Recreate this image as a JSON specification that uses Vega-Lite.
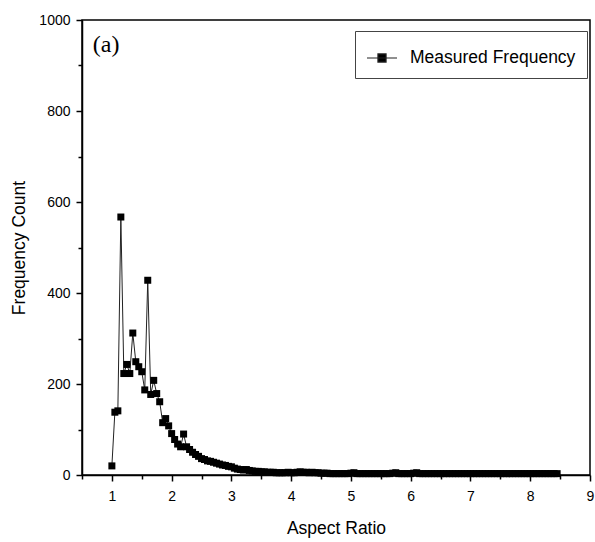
{
  "$schema": "https://vega.github.io/schema/vega-lite/v6.json",
  "width": 508,
  "height": 455,
  "autosize": {"type": "none"},
  "padding": {"left": 82, "top": 20, "right": 5, "bottom": 67},
  "background": "white",
  "config": {
    "view": {"stroke": "black", "strokeWidth": 1.5},
    "font": "Liberation Sans"
  },
  "data": {
    "values": [
      {"ratio": 1.00, "count": 20}, {"ratio": 1.05, "count": 138}, {"ratio": 1.10, "count": 141}, {"ratio": 1.15, "count": 567},
      {"ratio": 1.20, "count": 223}, {"ratio": 1.25, "count": 243}, {"ratio": 1.30, "count": 223}, {"ratio": 1.35, "count": 312},
      {"ratio": 1.40, "count": 249}, {"ratio": 1.45, "count": 238}, {"ratio": 1.50, "count": 227}, {"ratio": 1.55, "count": 187},
      {"ratio": 1.60, "count": 428}, {"ratio": 1.65, "count": 177}, {"ratio": 1.70, "count": 208}, {"ratio": 1.75, "count": 179},
      {"ratio": 1.80, "count": 161}, {"ratio": 1.85, "count": 115}, {"ratio": 1.90, "count": 124}, {"ratio": 1.95, "count": 108},
      {"ratio": 2.00, "count": 91}, {"ratio": 2.05, "count": 78}, {"ratio": 2.10, "count": 68}, {"ratio": 2.15, "count": 62},
      {"ratio": 2.20, "count": 90}, {"ratio": 2.25, "count": 62}, {"ratio": 2.30, "count": 56}, {"ratio": 2.35, "count": 50},
      {"ratio": 2.40, "count": 45}, {"ratio": 2.45, "count": 41}, {"ratio": 2.50, "count": 36}, {"ratio": 2.55, "count": 34},
      {"ratio": 2.60, "count": 31}, {"ratio": 2.65, "count": 30}, {"ratio": 2.70, "count": 28}, {"ratio": 2.75, "count": 26},
      {"ratio": 2.80, "count": 24}, {"ratio": 2.85, "count": 22}, {"ratio": 2.90, "count": 21}, {"ratio": 2.95, "count": 19},
      {"ratio": 3.00, "count": 18}, {"ratio": 3.05, "count": 15}, {"ratio": 3.10, "count": 13}, {"ratio": 3.15, "count": 12},
      {"ratio": 3.20, "count": 11}, {"ratio": 3.25, "count": 12}, {"ratio": 3.30, "count": 10}, {"ratio": 3.35, "count": 9},
      {"ratio": 3.40, "count": 8}, {"ratio": 3.45, "count": 8}, {"ratio": 3.50, "count": 7}, {"ratio": 3.55, "count": 7},
      {"ratio": 3.60, "count": 6}, {"ratio": 3.65, "count": 6}, {"ratio": 3.70, "count": 6}, {"ratio": 3.75, "count": 5},
      {"ratio": 3.80, "count": 5}, {"ratio": 3.85, "count": 5}, {"ratio": 3.90, "count": 5}, {"ratio": 3.95, "count": 6},
      {"ratio": 4.00, "count": 5}, {"ratio": 4.05, "count": 5}, {"ratio": 4.10, "count": 6}, {"ratio": 4.15, "count": 7},
      {"ratio": 4.20, "count": 6}, {"ratio": 4.25, "count": 6}, {"ratio": 4.30, "count": 5}, {"ratio": 4.35, "count": 6},
      {"ratio": 4.40, "count": 5}, {"ratio": 4.45, "count": 5}, {"ratio": 4.50, "count": 4}, {"ratio": 4.55, "count": 4},
      {"ratio": 4.60, "count": 4}, {"ratio": 4.65, "count": 3}, {"ratio": 4.70, "count": 3}, {"ratio": 4.75, "count": 3},
      {"ratio": 4.80, "count": 3}, {"ratio": 4.85, "count": 3}, {"ratio": 4.90, "count": 3}, {"ratio": 4.95, "count": 3},
      {"ratio": 5.00, "count": 4}, {"ratio": 5.05, "count": 5}, {"ratio": 5.10, "count": 3}, {"ratio": 5.15, "count": 3},
      {"ratio": 5.20, "count": 3}, {"ratio": 5.25, "count": 3}, {"ratio": 5.30, "count": 3}, {"ratio": 5.35, "count": 3},
      {"ratio": 5.40, "count": 3}, {"ratio": 5.45, "count": 3}, {"ratio": 5.50, "count": 3}, {"ratio": 5.55, "count": 3},
      {"ratio": 5.60, "count": 3}, {"ratio": 5.65, "count": 3}, {"ratio": 5.70, "count": 4}, {"ratio": 5.75, "count": 5},
      {"ratio": 5.80, "count": 3}, {"ratio": 5.85, "count": 3}, {"ratio": 5.90, "count": 3}, {"ratio": 5.95, "count": 3},
      {"ratio": 6.00, "count": 3}, {"ratio": 6.05, "count": 4}, {"ratio": 6.10, "count": 5}, {"ratio": 6.15, "count": 3},
      {"ratio": 6.20, "count": 3}, {"ratio": 6.25, "count": 3}, {"ratio": 6.30, "count": 3}, {"ratio": 6.35, "count": 3},
      {"ratio": 6.40, "count": 3}, {"ratio": 6.45, "count": 3}, {"ratio": 6.50, "count": 3}, {"ratio": 6.55, "count": 3},
      {"ratio": 6.60, "count": 3}, {"ratio": 6.65, "count": 3}, {"ratio": 6.70, "count": 3}, {"ratio": 6.75, "count": 3},
      {"ratio": 6.80, "count": 3}, {"ratio": 6.85, "count": 3}, {"ratio": 6.90, "count": 3}, {"ratio": 6.95, "count": 3},
      {"ratio": 7.00, "count": 3}, {"ratio": 7.05, "count": 3}, {"ratio": 7.10, "count": 3}, {"ratio": 7.15, "count": 3},
      {"ratio": 7.20, "count": 3}, {"ratio": 7.25, "count": 3}, {"ratio": 7.30, "count": 3}, {"ratio": 7.35, "count": 3},
      {"ratio": 7.40, "count": 3}, {"ratio": 7.45, "count": 3}, {"ratio": 7.50, "count": 3}, {"ratio": 7.55, "count": 3},
      {"ratio": 7.60, "count": 3}, {"ratio": 7.65, "count": 3}, {"ratio": 7.70, "count": 3}, {"ratio": 7.75, "count": 3},
      {"ratio": 7.80, "count": 3}, {"ratio": 7.85, "count": 3}, {"ratio": 7.90, "count": 3}, {"ratio": 7.95, "count": 3},
      {"ratio": 8.00, "count": 3}, {"ratio": 8.05, "count": 3}, {"ratio": 8.10, "count": 3}, {"ratio": 8.15, "count": 3},
      {"ratio": 8.20, "count": 3}, {"ratio": 8.25, "count": 3}, {"ratio": 8.30, "count": 3}, {"ratio": 8.35, "count": 3},
      {"ratio": 8.40, "count": 3}, {"ratio": 8.45, "count": 3}
    ]
  },
  "encoding": {
    "x": {
      "field": "ratio", "type": "quantitative",
      "scale": {"domain": [0.5, 9], "nice": false, "zero": false},
      "axis": {
        "title": "Aspect Ratio",
        "values": [0.5, 1, 1.5, 2, 2.5, 3, 3.5, 4, 4.5, 5, 5.5, 6, 6.5, 7, 7.5, 8, 8.5, 9],
        "labelExpr": "datum.value % 1 === 0 ? format(datum.value, 'd') : ''",
        "tickSize": {"condition": {"test": "datum.value % 1 !== 0", "value": 4}, "value": 6},
        "grid": false, "domainColor": "black", "domainWidth": 1.5, "tickColor": "black", "tickWidth": 1.5,
        "labelFontSize": 14, "labelColor": "black", "labelPadding": 8, "labelFlush": false, "labelOverlap": false,
        "titleFontSize": 17.5, "titleFontWeight": "normal", "titleColor": "black", "titlePadding": 16
      }
    },
    "y": {
      "field": "count", "type": "quantitative",
      "scale": {"domain": [0, 1000], "nice": false},
      "axis": {
        "title": "Frequency Count",
        "values": [0, 100, 200, 300, 400, 500, 600, 700, 800, 900, 1000],
        "labelExpr": "datum.value % 200 === 0 ? format(datum.value, 'd') : ''",
        "tickSize": {"condition": {"test": "datum.value % 200 !== 0", "value": 4}, "value": 6},
        "grid": false, "domainColor": "black", "domainWidth": 1.5, "tickColor": "black", "tickWidth": 1.5,
        "labelFontSize": 14, "labelColor": "black", "labelPadding": 6, "labelFlush": false, "labelOverlap": false,
        "titleFontSize": 17.5, "titleFontWeight": "normal", "titleColor": "black", "titlePadding": 10
      }
    }
  },
  "layer": [
    {
      "mark": {"type": "line", "strokeWidth": 1},
      "encoding": {
        "color": {
          "datum": "Measured Frequency",
          "scale": {"range": ["#222222"]},
          "legend": {
            "title": null, "orient": "none", "legendX": 273, "legendY": 11,
            "strokeColor": "#444444", "padding": 11,
            "labelFontSize": 17.5, "labelColor": "black", "labelFont": "Liberation Sans", "labelOffset": 12, "labelLimit": 0,
            "symbolType": "M-1,0H1M-0.27,-0.27H0.27V0.27H-0.27Z",
            "symbolSize": 900, "symbolStrokeWidth": 1.2, "symbolFillColor": "black", "symbolStrokeColor": "black"
          }
        }
      }
    },
    {
      "mark": {"type": "point", "shape": "square", "filled": true, "size": 49, "color": "black", "opacity": 1}
    },
    {
      "transform": [{"filter": "datum.ratio === 1"}],
      "mark": {"type": "text", "font": "Liberation Serif", "fontSize": 24, "fontWeight": "normal", "align": "left", "baseline": "middle", "fill": "black"},
      "encoding": {
        "x": {"datum": 0.68},
        "y": {"datum": 944},
        "text": {"value": "(a)"}
      }
    }
  ]
}
